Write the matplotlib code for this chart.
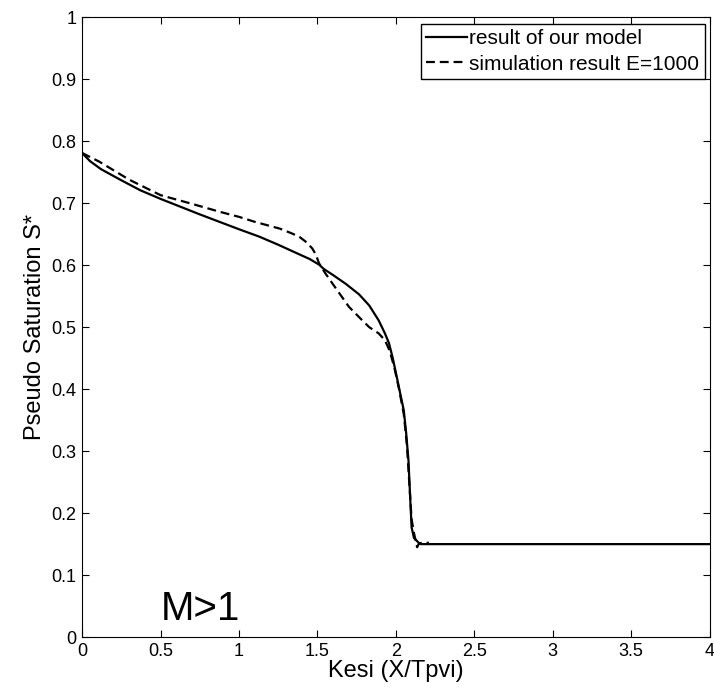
import matplotlib
matplotlib.use('Agg')
import matplotlib.pyplot as plt

plt.rcParams['font.family'] = ['Liberation Sans', 'DejaVu Sans']

# result of our model
model_x = [0.0, 0.05, 0.12, 0.25, 0.37, 0.5, 0.75, 1.0, 1.13, 1.25, 1.38, 1.45,
           1.51, 1.54, 1.60, 1.68, 1.765, 1.83, 1.89, 1.93, 1.956, 1.98, 2.006,
           2.03, 2.05, 2.065, 2.08, 2.09, 2.10, 2.115, 2.146, 2.16, 4.0]
model_y = [0.781, 0.768, 0.755, 0.737, 0.721, 0.707, 0.682, 0.658, 0.646, 0.633, 0.618, 0.610,
           0.601, 0.594, 0.584, 0.570, 0.553, 0.535, 0.511, 0.490, 0.474, 0.450, 0.419,
           0.390, 0.366, 0.330, 0.285, 0.230, 0.177, 0.160, 0.152, 0.150, 0.150]

# simulation result E=1000
sim_x = [0.0, 0.11, 0.3, 0.5, 0.7, 0.88, 1.0, 1.1, 1.26, 1.33, 1.384, 1.43, 1.467,
         1.49, 1.51, 1.55, 1.594, 1.65, 1.70, 1.77, 1.83, 1.89, 1.93, 1.96, 1.99,
         2.02, 2.05, 2.07, 2.085, 2.10, 2.115, 2.135, 2.145, 2.17, 2.21]
sim_y = [0.781, 0.767, 0.738, 0.713, 0.699, 0.686, 0.678, 0.670, 0.659, 0.652, 0.646, 0.637, 0.627,
         0.617, 0.603, 0.587, 0.571, 0.551, 0.533, 0.515, 0.500, 0.490, 0.479, 0.462, 0.435,
         0.400, 0.360, 0.310, 0.250, 0.190, 0.168, 0.145, 0.150, 0.153, 0.152]

fig = plt.figure(figsize=(7.14, 6.91), dpi=100)
ax = fig.add_axes([0.115, 0.078, 0.879, 0.897])

ax.plot(model_x, model_y, 'k-', linewidth=1.6, label='result of our model')
ax.plot(sim_x, sim_y, 'k--', linewidth=1.6, dashes=(4, 2.2), label='simulation result E=1000')

ax.set_xlim(0, 4)
ax.set_ylim(0, 1)
ax.set_xticks([0, 0.5, 1, 1.5, 2, 2.5, 3, 3.5, 4])
ax.set_xticklabels(['0', '0.5', '1', '1.5', '2', '2.5', '3', '3.5', '4'])
ax.set_yticks([i / 10 for i in range(11)])
ax.set_yticklabels(['0', '0.1', '0.2', '0.3', '0.4', '0.5', '0.6', '0.7', '0.8', '0.9', '1'])
ax.tick_params(direction='in', top=True, right=True, length=5, labelsize=13, pad=4)

ax.set_xlabel('Kesi (X/Tpvi)', fontsize=17, labelpad=0)
ax.set_ylabel('Pseudo Saturation S*', fontsize=17, labelpad=4)

ax.text(0.5, 0.027, 'M>1', fontsize=29)

ax.legend(loc='upper right', bbox_to_anchor=(0.992, 0.989), borderaxespad=0,
          fancybox=False, edgecolor='black', framealpha=1, fontsize=15,
          handlelength=2.0, handletextpad=0.1, borderpad=0.25, labelspacing=0.3)

fig.savefig('out.png', dpi=100)
